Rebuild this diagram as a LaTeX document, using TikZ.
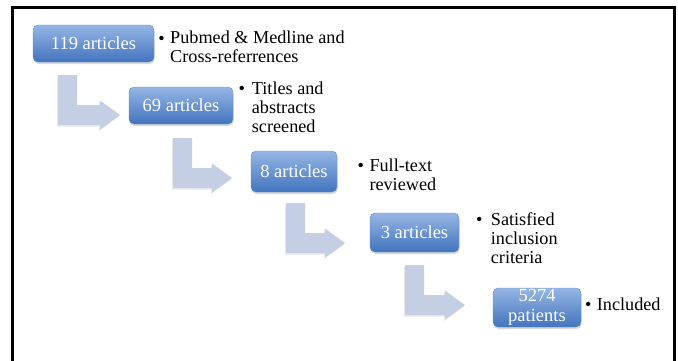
\documentclass[tikz,border=0pt]{standalone}
\usepackage{fontspec}
\setmainfont{Liberation Serif}
\usetikzlibrary{shadows}
\definecolor{boxtop}{RGB}{150,182,228}
\definecolor{boxbot}{RGB}{66,116,190}
\definecolor{boxline}{RGB}{95,138,200}
\definecolor{arrowfill}{RGB}{196,207,227}
\tikzset{
  stepbox/.style={rounded corners=5pt, top color=boxtop, bottom color=boxbot,
    draw=boxline, line width=0.4pt, text=white,
    font=\fontsize{18.5}{19.5}\selectfont, align=center, inner sep=0pt,
    drop shadow={shadow xshift=0.6pt, shadow yshift=-2pt, opacity=0.3}},
  bullettext/.style={anchor=base west, inner sep=0pt, align=left,
    font=\fontsize{18.2}{19}\selectfont, text=black},
  bulletdot/.style={anchor=base, inner sep=0pt, font=\fontsize{18.2}{19}\selectfont},
  bentarrow/.style={fill=arrowfill, draw=none,
    drop shadow={shadow xshift=-0.8pt, shadow yshift=-1.5pt, opacity=0.18}},
  frameline/.style={line width=3pt, draw=black, line join=miter}
}
\newcommand\drawbent[3]{%
  \path[bentarrow] (#1,#2) -- (#1+19,#2) -- (#1+19,#2+30) -- (#3,#2+30)
    -- (#3,#2+25.5) -- (#3+20,#2+40) -- (#3,#2+54.5) -- (#3,#2+50)
    -- (#1,#2+50) -- cycle;}
\begin{document}
\begin{tikzpicture}[x=1pt,y=-1pt]
\useasboundingbox (0,0) rectangle (678,360);
\draw[frameline] (12.5,365) -- (12.5,7.5) -- (674.5,7.5) -- (674.5,365);

% bent arrows
\drawbent{58}{75}{100}
\drawbent{173}{138}{212}
\drawbent{286}{203}{325}
\drawbent{405}{265}{445}

% boxes
\node[stepbox, minimum width=121pt, minimum height=37pt] (n1) at (93.5,43.5) {119 articles};
\node[stepbox, minimum width=104pt, minimum height=37pt] (n2) at (181,105.5) {69 articles};
\node[stepbox, minimum width=86pt, minimum height=41pt] (n3) at (294,171.5) {8 articles};
\node[stepbox, minimum width=89pt, minimum height=39pt] (n4) at (414.5,232.5) {3 articles};
\node[stepbox, minimum width=88pt, minimum height=39pt] (n5) at (537,307.5) {5274\\patients};

% bullet texts (anchor = baseline of the last line)
\node[bulletdot] (b1) at (161.5,44) {•};
\node[bullettext] (t1) at (170,62.5) {Pubmed \& Medline and\\Cross-referrences};
\node[bulletdot] (b2) at (241.7,94.3) {•};
\node[bullettext] (t2) at (251.7,132.3) {Titles and\\abstracts\\screened};
\node[bulletdot] (b3) at (360.7,171) {•};
\node[bullettext] (t3) at (369.3,190) {Full-text\\reviewed};
\node[bulletdot] (b4) at (479.3,225) {•};
\node[bullettext] (t4) at (490.7,263) {Satisfied\\inclusion\\criteria};
\node[bulletdot] (b5) at (588.3,310.5) {•};
\node[bullettext] (t5) at (596.7,310.5) {Included};
\end{tikzpicture}
\end{document}
